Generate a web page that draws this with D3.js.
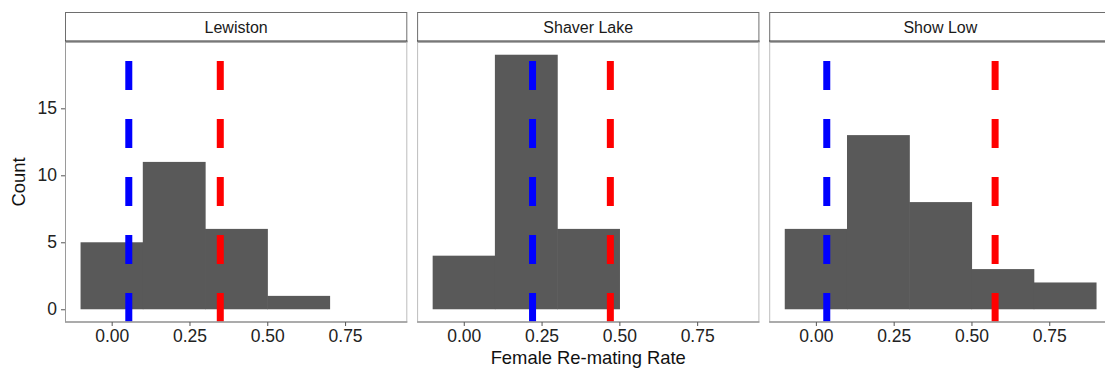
<!DOCTYPE html>
<html>
<head>
<meta charset="utf-8">
<script src="https://cdn.jsdelivr.net/npm/d3@7"></script>
<style>
  body { margin: 0; background: #fff; }
  svg { display: block; font-family: "Liberation Sans", Arial, sans-serif; }
</style>
</head>
<body>
<svg id="chart" width="1105" height="372"></svg>
<script>
// histogram bins (width 0.2) and counts per site
const sites = ["Lewiston", "Shaver Lake", "Show Low"];
const binStarts = [-0.1, 0.1, 0.3, 0.5, 0.7];
const binWidth = 0.2;
const lewistonCounts = [5, 11, 6, 1, 0];
const shaverLakeCounts = [4, 19, 6, 0, 0];
const showLowCounts = [6, 13, 8, 3, 2];
// reference rates drawn as dashed lines
const blueRates = [0.055, 0.221, 0.035];
const redRates = [0.349, 0.471, 0.576];
const xTicks = [0, 0.25, 0.5, 0.75];
const yTicks = [0, 5, 10, 15];

const counts = [lewistonCounts, shaverLakeCounts, showLowCounts];

var svg = d3.select("#chart"),
    panelW = 342.3,
    panelGap = 9.8,
    marginLeft = 65,
    stripTop = 12,
    panelTop = 42,
    panelH = 280;

var x = d3.scaleLinear().domain([-0.15, 0.95]).range([0, panelW]);
var y = d3.scaleLinear().domain([-0.95, 19.95]).range([panelH, 0]);

sites.forEach(function (site, i) {
    var px = marginLeft + i * (panelW + panelGap);
    var g = svg.append("g").attr("transform", "translate(" + px + "," + panelTop + ")");

    // strip
    g.append("rect")
        .attr("x", 0.5).attr("y", stripTop - panelTop + 0.5)
        .attr("width", panelW - 1).attr("height", panelTop - stripTop - 1)
        .attr("fill", "#fff").attr("stroke", "#6e6e6e");
    g.append("line")
        .attr("x1", 0).attr("x2", panelW)
        .attr("y1", -0.5).attr("y2", -0.5)
        .attr("stroke", "#333").attr("stroke-width", 2);
    g.append("text")
        .attr("x", panelW / 2).attr("y", -9)
        .attr("text-anchor", "middle")
        .attr("font-size", 16).attr("fill", "#1a1a1a")
        .text(site);

    var data = binStarts.map(function (b, k) { return { x0: b, x1: b + binWidth, n: counts[i][k] }; })
        .filter(function (d) { return d.n > 0; });

    // bars: a hair wider so neighbours don't show a seam
    g.selectAll("rect.bar")
        .data(data)
        .enter().append("rect")
        .attr("class", "bar")
        .attr("x", function (d) { return x(d.x0); })
        .attr("width", function (d) { return x(d.x1) - x(d.x0) + 0.6; })
        .attr("y", function (d) { return y(d.n); })
        .attr("height", function (d) { return y(0) - y(d.n); })
        .attr("fill", "#595959");

    [[blueRates[i], "#0000ff"], [redRates[i], "#ff0000"]].forEach(function (v) {
        g.append("line")
            .attr("x1", x(v[0])).attr("x2", x(v[0]))
            .attr("y1", panelH).attr("y2", 0)
            .attr("stroke", v[1]).attr("stroke-width", 7)
            .attr("stroke-dasharray", "29,29");
    });

    // panel border
    g.append("rect")
        .attr("x", 0.5).attr("y", 0)
        .attr("width", panelW - 1).attr("height", panelH)
        .attr("fill", "none").attr("stroke", "#bdbdbd");
    g.append("line")
        .attr("x1", 0).attr("x2", panelW)
        .attr("y1", panelH).attr("y2", panelH)
        .attr("stroke", "#9a9a9a").attr("stroke-width", 1.5);

    var xAxis = g.append("g")
        .attr("transform", "translate(0," + panelH + ")")
        .call(d3.axisBottom(x).tickValues(xTicks).tickFormat(d3.format(".2f")).tickSize(4).tickPadding(4));
    xAxis.select(".domain").remove();
    xAxis.selectAll("line").attr("stroke", "#555");
    xAxis.selectAll("text").attr("font-size", 17.5).attr("fill", "#222").attr("font-family", null);

    if (i === 0) {
        var yAxis = g.append("g")
            .call(d3.axisLeft(y).tickValues(yTicks).tickSize(4).tickPadding(4));
        yAxis.select(".domain").attr("stroke", "#9a9a9a").attr("d", "M0.5,0V" + panelH);
        yAxis.selectAll("line").attr("stroke", "#555");
        yAxis.selectAll("text").attr("font-size", 17.5).attr("fill", "#222").attr("font-family", null);
    }
});

svg.append("text")
    .attr("x", marginLeft + 1.5 * panelW + panelGap)
    .attr("y", 364)
    .attr("text-anchor", "middle")
    .attr("font-size", 18.4).attr("fill", "#111")
    .text("Female Re-mating Rate");

svg.append("text")
    .attr("transform", "translate(25," + (panelTop + y(9.5)) + ") rotate(-90)")
    .attr("text-anchor", "middle")
    .attr("font-size", 18.4).attr("fill", "#111")
    .text("Count");
</script>
</body>
</html>
